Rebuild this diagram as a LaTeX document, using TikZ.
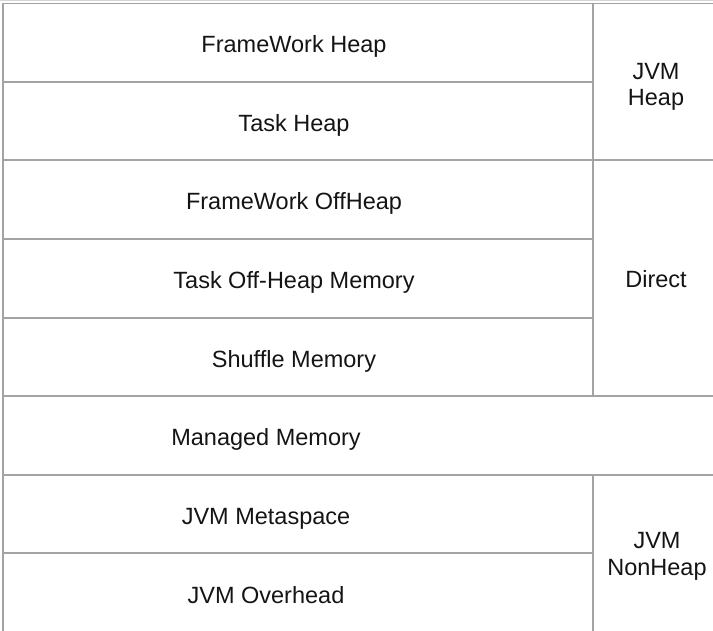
\documentclass[tikz,border=0pt]{standalone}
\usepackage{fontspec}
\setmainfont{Liberation Sans}
\definecolor{gridgray}{HTML}{A3A3A3}
\definecolor{txt}{HTML}{141414}
\begin{document}
\begin{tikzpicture}[x=1pt,y=-1pt,
  grid/.style={draw=gridgray,line width=1.8pt},
  faint/.style={draw=gridgray!45,line width=1pt},
  lbl/.style={font=\fontsize{23.5}{26.5}\selectfont,text=txt,inner sep=0pt,anchor=base,align=center}]
\useasboundingbox (0,0) rectangle (713,631);
% outer / grid lines
\draw[faint] (0,0.5) -- (713,0.5);
\draw[grid] (3,3.5) -- (713,3.5);
\draw[grid] (3,3.5) -- (3,631);
\draw[grid] (593,3.5) -- (593,396);
\draw[grid] (593,475) -- (593,631);
\draw[grid] (3,82) -- (593,82);
\draw[grid] (3,160) -- (713,160);
\draw[grid] (3,239) -- (593,239);
\draw[grid] (3,318) -- (593,318);
\draw[grid] (3,396) -- (713,396);
\draw[grid] (3,475) -- (713,475);
\draw[grid] (3,553) -- (593,553);
% labels
\node[lbl] (fwh) at (294,53) {FrameWork Heap};
\node[lbl] (th) at (294,132) {Task Heap};
\node[lbl] (fwo) at (294,210) {FrameWork OffHeap};
\node[lbl] (tohm) at (294,289) {Task Off-Heap Memory};
\node[lbl] (sm) at (294,367) {Shuffle Memory};
\node[lbl] (mm) at (266,446) {Managed Memory};
\node[lbl] (jms) at (266,524) {JVM Metaspace};
\node[lbl] (jo) at (266,603) {JVM Overhead};
\node[lbl] (jh) at (656,106) {JVM\\Heap};
\node[lbl] (dir) at (656,288) {Direct};
\node[lbl] (jnh) at (657,575) {JVM\\NonHeap};
\end{tikzpicture}
\end{document}
